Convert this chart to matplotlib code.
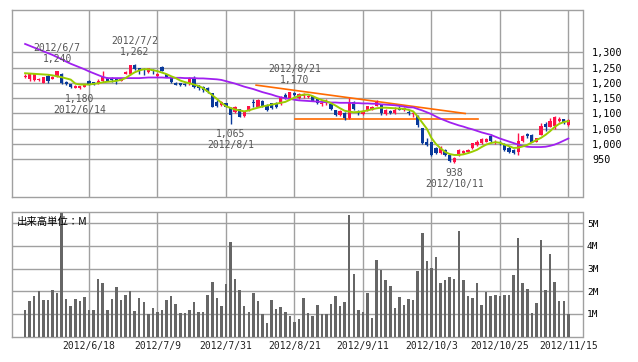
import matplotlib
matplotlib.use("Agg")
import matplotlib.pyplot as plt
import numpy as np

# ---------------- data ----------------
tick_idx = [14, 29, 44, 59, 74, 89, 104, 119]
tick_labels = ['2012/6/18', '2012/7/9', '2012/7/31', '2012/8/21',
               '2012/9/11', '2012/10/3', '2012/10/25', '2012/11/15']

opens = [1220, 1212, 1210, 1210, 1200, 1222, 1214, 1222, 1230, 1203,
         1196, 1184, 1183, 1188, 1206, 1202, 1200, 1205, 1215, 1214,
         1212, 1208, 1229, 1228, 1260, 1248, 1245, 1236, 1244, 1222,
         1254, 1228, 1218, 1201, 1199, 1198, 1199, 1216, 1192, 1188,
         1183, 1166, 1137, 1128, 1133, 1117, 1104, 1114, 1091, 1111,
         1139, 1122, 1141, 1128, 1133, 1135, 1130, 1161, 1152, 1168,
         1150, 1156, 1155, 1156, 1148, 1130, 1134, 1131, 1111, 1095,
         1103, 1084, 1139, 1104, 1097, 1111, 1113, 1126, 1128, 1097,
         1108, 1102, 1116, 1110, 1106, 1098, 1092, 1052, 1008, 1005,
         986, 970, 980, 964, 940, 964, 972, 975, 986, 997,
         1003, 1008, 1026, 1003, 1006, 1000, 988, 981, 975, 1010,
         1032, 1030, 1008, 1030, 1064, 1057, 1058, 1075, 1081, 1062]
highs = [1228, 1234, 1232, 1216, 1220, 1228, 1222, 1240, 1232, 1205,
         1198, 1193, 1191, 1198, 1210, 1204, 1212, 1240, 1218, 1220,
         1216, 1216, 1240, 1260, 1262, 1250, 1248, 1250, 1246, 1232,
         1257, 1230, 1220, 1203, 1201, 1200, 1218, 1222, 1194, 1190,
         1186, 1168, 1144, 1142, 1136, 1120, 1124, 1116, 1108, 1126,
         1146, 1146, 1144, 1132, 1136, 1138, 1158, 1166, 1172, 1170,
         1168, 1166, 1160, 1158, 1150, 1140, 1146, 1133, 1113, 1110,
         1105, 1150, 1142, 1110, 1112, 1126, 1126, 1144, 1131, 1114,
         1112, 1120, 1124, 1122, 1112, 1108, 1095, 1054, 1018, 1008,
         990, 994, 984, 966, 956, 984, 980, 984, 1004, 1012,
         1018, 1020, 1032, 1012, 1010, 1004, 992, 984, 1035, 1028,
         1035, 1032, 1020, 1068, 1072, 1084, 1092, 1090, 1083, 1082]
lows = [1215, 1208, 1205, 1207, 1199, 1200, 1212, 1220, 1198, 1194,
        1184, 1182, 1180, 1186, 1194, 1193, 1198, 1203, 1206, 1204,
        1198, 1206, 1228, 1226, 1243, 1230, 1226, 1234, 1230, 1220,
        1238, 1218, 1200, 1192, 1190, 1190, 1195, 1183, 1178, 1172,
        1166, 1120, 1120, 1126, 1120, 1065, 1102, 1088, 1088, 1108,
        1120, 1120, 1122, 1108, 1116, 1118, 1128, 1148, 1150, 1156,
        1148, 1150, 1150, 1140, 1130, 1126, 1128, 1113, 1093, 1093,
        1079, 1082, 1113, 1095, 1095, 1109, 1110, 1124, 1095, 1095,
        1098, 1098, 1110, 1108, 1096, 1090, 1055, 1000, 992, 962,
        968, 966, 962, 942, 938, 962, 968, 972, 984, 995,
        1000, 1005, 1008, 1000, 996, 978, 972, 966, 965, 1008,
        1018, 1006, 1006, 1028, 1044, 1055, 1050, 1072, 1064, 1058]
closes = [1223, 1230, 1228, 1213, 1218, 1205, 1218, 1240, 1200, 1196,
          1186, 1191, 1190, 1195, 1196, 1195, 1208, 1218, 1208, 1210,
          1205, 1214, 1237, 1258, 1245, 1241, 1242, 1248, 1240, 1230,
          1240, 1220, 1202, 1194, 1192, 1194, 1212, 1186, 1182, 1177,
          1172, 1122, 1126, 1139, 1122, 1095, 1122, 1090, 1106, 1124,
          1135, 1144, 1124, 1111, 1119, 1120, 1155, 1150, 1169, 1160,
          1164, 1160, 1158, 1142, 1133, 1134, 1140, 1115, 1095, 1108,
          1084, 1133, 1115, 1100, 1108, 1124, 1122, 1139, 1100, 1111,
          1101, 1112, 1112, 1118, 1103, 1102, 1062, 1003, 997, 964,
          970, 986, 964, 944, 953, 981, 977, 980, 1002, 1008,
          1015, 1017, 1011, 1008, 1002, 981, 975, 970, 1010, 1025,
          1026, 1008, 1018, 1060, 1055, 1075, 1088, 1082, 1068, 1079]

ma_short = [1232, 1231, 1230, 1229, 1228, 1227, 1225, 1222, 1219, 1215,
            1211, 1198, 1195, 1195, 1195, 1197, 1199, 1202, 1204, 1205,
            1207, 1210, 1216, 1226, 1235, 1241, 1245, 1245, 1242, 1239,
            1234, 1229, 1222, 1216, 1208, 1203, 1199, 1195, 1190, 1183,
            1172, 1160, 1148, 1135, 1124, 1118, 1113, 1110, 1107, 1110,
            1115, 1119, 1123, 1126, 1129, 1132, 1135, 1138, 1145, 1152,
            1158, 1162, 1162, 1157, 1150, 1144, 1140, 1134, 1126, 1117,
            1109, 1106, 1104, 1105, 1107, 1110, 1114, 1117, 1119, 1119,
            1118, 1117, 1116, 1115, 1112, 1107, 1090, 1070, 1050, 1020,
            1000, 986, 974, 967, 964, 964, 966, 970, 975, 981,
            990, 998, 1003, 1006, 1004, 998, 993, 987, 988, 992,
            997, 1005, 1013, 1020, 1030, 1042, 1056, 1066, 1072, 1075]
ma_long = [1328, 1322, 1316, 1310, 1304, 1298, 1292, 1285, 1278, 1270,
           1263, 1257, 1251, 1245, 1238, 1232, 1226, 1220, 1216, 1216,
           1216, 1216, 1216, 1216, 1216, 1216, 1217, 1218, 1218, 1218,
           1218, 1217, 1217, 1217, 1217, 1216, 1216, 1216, 1215, 1215,
           1214, 1213, 1212, 1210, 1206, 1202, 1198, 1193, 1188, 1184,
           1180, 1175, 1170, 1166, 1162, 1157, 1153, 1150, 1148, 1145,
           1143, 1142, 1141, 1140, 1139, 1138, 1137, 1136, 1136, 1135,
           1135, 1135, 1134, 1134, 1133, 1133, 1132, 1132, 1130, 1129,
           1128, 1127, 1125, 1123, 1120, 1120, 1115, 1110, 1104, 1098,
           1090, 1083, 1077, 1071, 1066, 1061, 1057, 1052, 1048, 1043,
           1038, 1034, 1030, 1024, 1018, 1013, 1008, 1003, 998, 994,
           991, 990, 990, 990, 991, 994, 998, 1004, 1011, 1018]

volume_m = [1.18, 1.57, 1.79, 2.01, 1.63, 1.63, 2.06, 1.93, 5.45, 1.66,
            1.35, 1.66, 1.57, 1.75, 1.18, 1.18, 2.54, 2.37, 1.18, 1.66,
            2.19, 1.62, 1.84, 2.01, 1.13, 1.71, 1.53, 1.00, 1.26, 1.09,
            1.18, 1.62, 1.79, 1.44, 1.04, 1.04, 1.18, 1.53, 1.09, 1.09,
            1.84, 2.41, 1.71, 1.35, 2.32, 4.18, 2.54, 2.06, 1.35, 1.09,
            1.93, 1.57, 1.00, 0.60, 1.62, 1.22, 1.31, 1.09, 0.91, 0.65,
            0.78, 1.71, 1.04, 0.91, 1.40, 1.00, 1.00, 1.44, 1.79, 1.35,
            1.53, 5.37, 2.76, 1.18, 1.09, 1.93, 0.82, 3.38, 2.94, 2.50,
            2.24, 1.26, 1.75, 1.40, 1.66, 1.62, 2.90, 4.57, 3.34, 3.03,
            3.51, 2.37, 2.50, 2.63, 2.54, 4.66, 2.50, 1.79, 1.71, 2.37,
            1.40, 1.97, 1.79, 1.84, 1.79, 1.84, 1.84, 2.72, 4.35, 2.37,
            2.10, 1.04, 1.49, 4.26, 2.06, 3.65, 2.41, 1.57, 1.57, 1.00]

# trend lines (index, price)
trend_down_idx = [50.6, 96.4]
trend_down_val = [1193, 1100]
support_idx = [59.1, 99.2]
support_val = [1081, 1081]

# annotations: index, price, date text, value text, above?
notes = [(7, 1240, '2012/6/7', '1,240', True),
         (12, 1180, '2012/6/14', '1,180', False),
         (24, 1262, '2012/7/2', '1,262', True),
         (45, 1065, '2012/8/1', '1,065', False),
         (59, 1170, '2012/8/21', '1,170', True),
         (94, 938, '2012/10/11', '938', False)]

price_ticks = [950, 1000, 1050, 1100, 1150, 1200, 1250, 1300]
vol_ticks = [1, 2, 3, 4, 5]

# ---------------- figure ----------------
W, H = 638, 362
fig = plt.figure(figsize=(W / 100, H / 100), dpi=100)
fig.patch.set_facecolor('white')

def frac(x0, y0, x1, y1):
    return [x0 / W, 1 - y1 / H, (x1 - x0) / W, (y1 - y0) / H]

ax1 = fig.add_axes(frac(12, 10, 582.5, 197))
ax2 = fig.add_axes(frac(12, 212.3, 582.5, 336.7))

XLIM = (-2.87, 122.1)
GRID = '#a0a0a0'
mono = 'DejaVu Sans Mono'

for ax in (ax1, ax2):
    ax.set_xlim(*XLIM)
    for s in ax.spines.values():
        s.set_color(GRID)
        s.set_linewidth(1.0)
    ax.set_facecolor('white')
    for t in tick_idx:
        ax.axvline(t, color=GRID, lw=1.0, zorder=0)

ax1.set_ylim(826.2, 1439.3)
ax2.set_ylim(0, 5.48)

for p in price_ticks:
    ax1.axhline(p, color=GRID, lw=1.0, zorder=0)
for v in vol_ticks:
    ax2.axhline(v, color=GRID, lw=1.0, zorder=0)

# candles
n = len(opens)
idx = np.arange(n)
o = np.array(opens, float); c = np.array(closes, float)
h = np.array(highs, float); l = np.array(lows, float)
up = c >= o
RED = '#ff1148'
BLUE = '#0a3a9a'
cols = np.where(up, RED, BLUE)
ax1.vlines(idx, l, h, colors=cols, lw=1.0, zorder=3)
body_bot = np.minimum(o, c)
body_h = np.maximum(np.abs(c - o), 3.0)
ax1.bar(idx, body_h, bottom=body_bot, width=0.7, color=cols, lw=0, zorder=4)

# moving averages & trend lines
ax1.plot(idx, ma_long, color='#a020f0', lw=1.3, zorder=5)
ax1.plot(idx, ma_short, color='#9acd00', lw=1.4, zorder=5)
ax1.plot(trend_down_idx, trend_down_val, color='#ff6a00', lw=1.2, zorder=2)
ax1.plot(support_idx, support_val, color='#ff6a00', lw=1.2, zorder=2)

# annotations
for i, p, dtxt, vtxt, above in notes:
    if above:
        ax1.annotate(vtxt, (i, p), xytext=(0, 5.2), textcoords='offset points',
                     ha='center', va='bottom', fontsize=7, family=mono, color='#555555', zorder=6)
        ax1.annotate(dtxt, (i, p), xytext=(0, 13.0), textcoords='offset points',
                     ha='center', va='bottom', fontsize=7, family=mono, color='#555555', zorder=6)
    else:
        ax1.annotate(vtxt, (i, p), xytext=(0, -3.5), textcoords='offset points',
                     ha='center', va='top', fontsize=7, family=mono, color='#555555', zorder=6)
        ax1.annotate(dtxt, (i, p), xytext=(0, -11.5), textcoords='offset points',
                     ha='center', va='top', fontsize=7, family=mono, color='#555555', zorder=6)

# volume
ax2.bar(idx, volume_m, width=0.55, color='#666666', lw=0, zorder=3)

# axes ticks
ax1.set_xticks([])
ax1.yaxis.tick_right()
ax1.set_yticks(price_ticks)
ax1.set_yticklabels([f'{p:,}' for p in price_ticks], family=mono, fontsize=7.3)
ax1.tick_params(axis='y', length=0, pad=6.8, colors='black')

ax2.yaxis.tick_right()
ax2.set_yticks(vol_ticks)
ax2.set_yticklabels([f'{v}M' for v in vol_ticks], family=mono, fontsize=6.8)
ax2.tick_params(axis='y', length=0, pad=3.2, colors='black')
ax2.set_xticks(tick_idx)
ax2.set_xticklabels(tick_labels, family=mono, fontsize=7)
ax2.tick_params(axis='x', length=0, pad=3.2, colors='#222222')

ax2.text(0.008, 0.92, '出来高単位：M', transform=ax2.transAxes, ha='left', va='center',
         fontsize=7.5, family=['Noto Sans CJK JP', 'DejaVu Sans'], color='black', zorder=6)

fig.savefig('out.png', dpi=100, facecolor='white')
